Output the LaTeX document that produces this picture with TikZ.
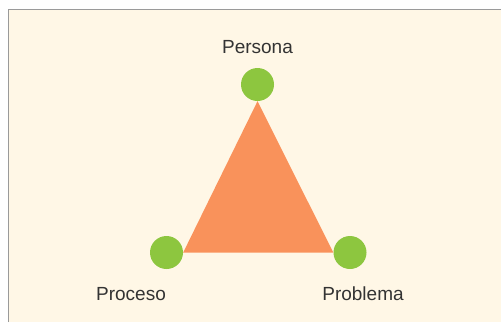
\documentclass[tikz,border=0pt]{standalone}
\usepackage{fontspec}
\setmainfont{Liberation Sans}
\usetikzlibrary{positioning}
\definecolor{crema}{HTML}{FFF7E6}
\definecolor{verde}{HTML}{8DC63F}
\definecolor{naranja}{HTML}{F9925B}
\definecolor{marco}{HTML}{9A9A9A}
\definecolor{texto}{HTML}{333333}
\tikzset{
    %Define style for the vertex dots
    punto/.style={
           circle,
           fill=verde,
           inner sep=0pt,
           minimum size=33pt},
    %Define style for the labels
    etiqueta/.style={
           font=\fontsize{19}{22}\selectfont,
           text=texto,
           inner sep=0pt,
           anchor=base}
}
\begin{document}
\begin{tikzpicture}[x=1pt,y=-1pt]
\useasboundingbox (0,0) rectangle (501,322);
\fill[crema] (9,10) rectangle (501,322);
\draw[marco,line width=1.5pt] (8.5,322) -- (8.5,9.5) -- (501,9.5);
\node[punto](persona) at (257.5,84.5){};
\node[punto](proceso) at (166.5,252.5){};
\node[punto](problema) at (350,252.5){};
\fill[naranja] (proceso.east) -- (persona.south) -- (problema.west) -- cycle;
\node[etiqueta](lpersona) at (257.5,53){Persona};
\node[etiqueta](lproceso) at (131,300){Proceso};
\node[etiqueta](lproblema) at (363,300){Problema};
\end{tikzpicture}
\end{document}
